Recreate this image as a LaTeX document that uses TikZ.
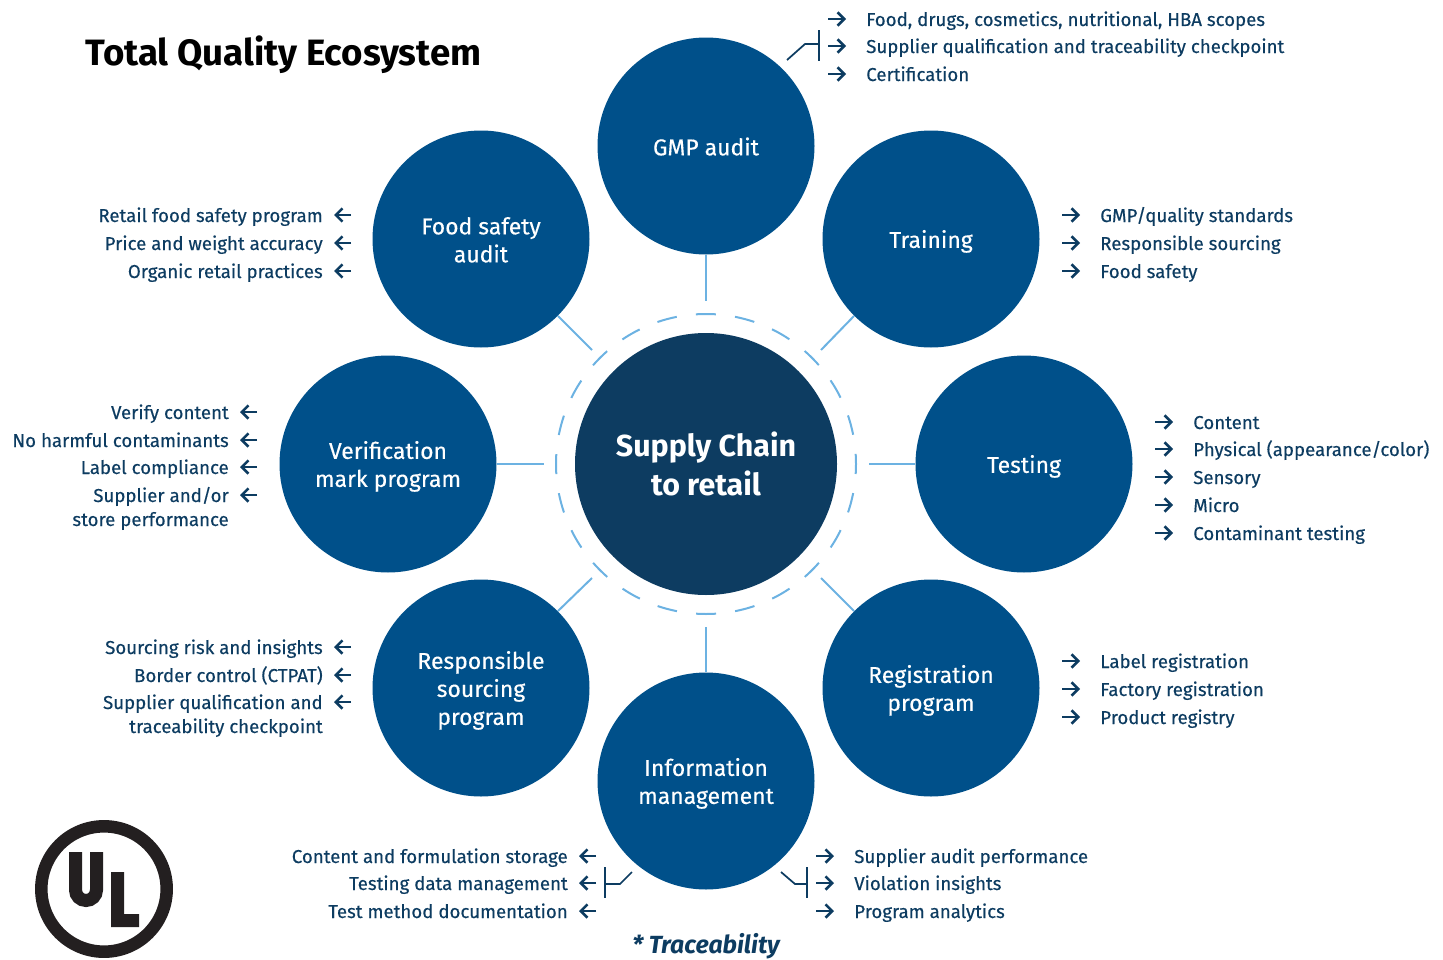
\documentclass[tikz,border=0pt]{standalone}
\usepackage{fontspec}
\setmainfont{Fira Sans}
\newfontfamily\itemfont[FakeBold=0.35]{Fira Sans}
\usetikzlibrary{arrows.meta}
\definecolor{ulblue}{HTML}{00508A}
\definecolor{uldark}{HTML}{0D3C61}
\definecolor{ulsky}{HTML}{6CB2E2}
\definecolor{ulblack}{HTML}{231F20}
\tikzset{
    service/.style={circle, fill=ulblue, text=white, minimum size=162.75pt, inner sep=0pt, align=center, font=\itemfont\fontsize{17.2}{21}\selectfont, execute at begin node={\rule{0pt}{17pt}}, execute at end node={\rule[-3pt]{0pt}{3pt}}},
    stacked/.style={execute at begin node={\rule{0pt}{#1}}},
    hub/.style={circle, fill=uldark, text=white, minimum size=196.5pt, inner sep=0pt, align=center, font=\bfseries\fontsize{22.8}{29}\selectfont},
    spoke/.style={ulsky, line width=1.5pt},
    ring/.style={ulsky, line width=1.5pt, dash pattern=on 15pt off 14.45pt, dash phase=7.5pt},
    item/.style={text=uldark, inner sep=0pt, font=\itemfont\fontsize{14}{17}\selectfont},
    bullet/.style={uldark, line width=1.9pt, -{Straight Barb[length=5pt, width=10pt, line width=1.9pt]}},
    bracket/.style={uldark, line width=1.3pt},
}
\begin{document}
\begin{tikzpicture}[x=0.75pt, y=-0.75pt]
    \useasboundingbox (0, 0) rectangle (1443, 960);

    \node[text=black, font=\bfseries\fontsize{27.5}{32}\selectfont, anchor=base west, inner sep=0pt] (title) at (85, 65) {Total Quality Ecosystem};

    % Center and dashed ring
    \draw[ring] (706, 464) circle [radius=150];
    \node[hub] (hub) at (706, 464) {Supply Chain\\to retail};

    % Services around the hub
    \node[service] (gmp) at (706, 146) {GMP audit};
    \node[service, stacked=38pt] (food) at (481, 239) {Food safety\\audit};
    \node[service] (training) at (931, 239) {Training};
    \node[service, stacked=38pt] (verify) at (388, 464) {Verification\\mark program};
    \node[service] (testing) at (1024, 464) {Testing};
    \node[service, stacked=59pt] (sourcing) at (481, 688) {Responsible\\sourcing\\program};
    \node[service, stacked=38pt] (registration) at (931, 688) {Registration\\program};
    \node[service, stacked=38pt] (info) at (706, 781) {Information\\management};

    % Spokes stop short of the ring
    \coordinate (gmpend) at (706, 301);
    \coordinate (foodend) at (592, 350);
    \coordinate (trainingend) at (821, 350);
    \coordinate (verifyend) at (544, 464);
    \coordinate (testingend) at (869, 464);
    \coordinate (sourcingend) at (592, 578);
    \coordinate (registrationend) at (821, 578);
    \coordinate (infoend) at (706, 627);

    \draw[spoke] (gmp.south) -- (gmpend);
    \draw[spoke] (food.-45) -- (foodend);
    \draw[spoke] (training.-135) -- (trainingend);
    \draw[spoke] (verify.east) -- (verifyend);
    \draw[spoke] (testing.west) -- (testingend);
    \draw[spoke] (sourcing.45) -- (sourcingend);
    \draw[spoke] (registration.135) -- (registrationend);
    \draw[spoke] (info.north) -- (infoend);

    % Lists on the right
    \foreach \x/\y/\t [count=\n] in {
        866/19/{Food, drugs, cosmetics, nutritional, HBA scopes},
        866/46/{Supplier qualification and traceability checkpoint},
        866/74/{Certification},
        1100/215/{GMP/quality standards},
        1100/243/{Responsible sourcing},
        1100/271/{Food safety},
        1193/422/{Content},
        1193/449/{Physical (appearance/color)},
        1193/477/{Sensory},
        1193/505/{Micro},
        1193/533/{Contaminant testing},
        1100/661/{Label registration},
        1100/689/{Factory registration},
        1100/717/{Product registry},
        854/856/{Supplier audit performance},
        854/883/{Violation insights},
        854/911/{Program analytics}
    } {
        \node[item, anchor=base west] (r\n) at (\x, \y+7) {\t};
        \draw[bullet] ([shift={(-38, -7)}]r\n.base west) -- ([shift={(-20, -7)}]r\n.base west);
    }

    % Lists on the left
    \foreach \x/\y/\t [count=\n] in {
        323/215/{Retail food safety program},
        323/243/{Price and weight accuracy},
        323/271/{Organic retail practices},
        229/412/{Verify content},
        229/440/{No harmful contaminants},
        229/467/{Label compliance},
        229/495/{Supplier and/or},
        323/647/{Sourcing risk and insights},
        323/675/{Border control (CTPAT)},
        323/702/{Supplier qualification and},
        568/856/{Content and formulation storage},
        568/883/{Testing data management},
        568/911/{Test method documentation}
    } {
        \node[item, anchor=base east] (l\n) at (\x, \y+7) {\t};
        \draw[bullet] ([shift={(28, -7)}]l\n.base east) -- ([shift={(11, -7)}]l\n.base east);
    }
    \node[item, anchor=base east] (l7b) at (229, 526) {store performance};
    \node[item, anchor=base east] (l10b) at (323, 733) {traceability checkpoint};

    % Brackets
    \coordinate (gmptop) at (819, 30);
    \coordinate (gmpbot) at (819, 61);
    \coordinate (gmpjoin) at (819, 44);
    \coordinate (gmpknee) at (805, 44);
    \coordinate (gmpfree) at (787, 60);
    \draw[bracket] (gmptop) -- (gmpbot);
    \draw[bracket] (gmpjoin) -- (gmpknee) -- (gmpfree);

    \coordinate (infoltop) at (605, 867);
    \coordinate (infolbot) at (605, 898);
    \coordinate (infoljoin) at (605, 884);
    \coordinate (infolknee) at (620, 884);
    \coordinate (infolfree) at (632, 872);
    \draw[bracket] (infoltop) -- (infolbot);
    \draw[bracket] (infoljoin) -- (infolknee) -- (infolfree);

    \coordinate (inforetop) at (807, 867);
    \coordinate (inforebot) at (807, 898);
    \coordinate (inforejoin) at (807, 884);
    \coordinate (inforeknee) at (795, 884);
    \coordinate (inforefree) at (781, 872);
    \draw[bracket] (inforetop) -- (inforebot);
    \draw[bracket] (inforejoin) -- (inforeknee) -- (inforefree);

    \node[text=uldark, inner sep=0pt, font=\bfseries\itshape\fontsize{18.6}{23}\selectfont] (trace) at (706, 946) {* Traceability};

    % Logo
    \draw[ulblack, line width=9.4pt] (104, 889) circle [radius=62.7];
    \draw[ulblack, line width=9.75pt] (75.5, 852) -- (75.5, 890) arc[start angle=180, end angle=0, radius=10.5] -- (96.5, 852);
    \fill[ulblack] (111, 872) -- (124, 872) -- (124, 914) -- (139, 914) -- (139, 927) -- (111, 927) -- cycle;
\end{tikzpicture}
\end{document}
